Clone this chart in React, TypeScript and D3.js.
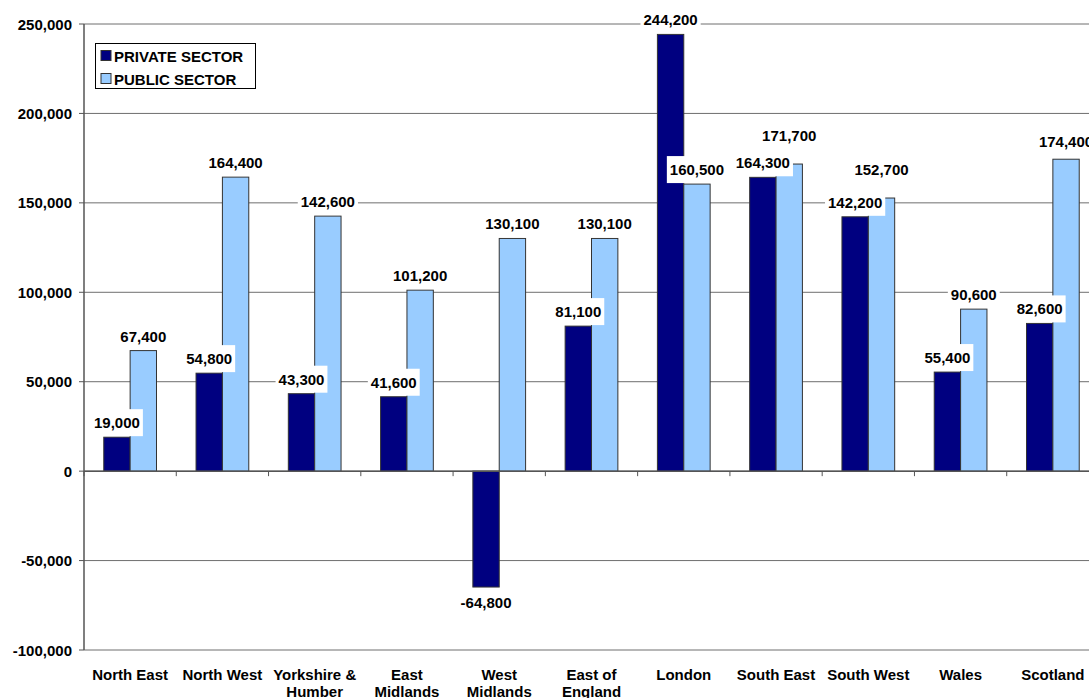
import { useMemo } from 'react';
import { scaleBand, scaleLinear, format } from 'd3';

const categories = [
  ['North East'],
  ['North West'],
  ['Yorkshire &', 'Humber'],
  ['East', 'Midlands'],
  ['West', 'Midlands'],
  ['East of', 'England'],
  ['London'],
  ['South East'],
  ['South West'],
  ['Wales'],
  ['Scotland'],
];
const privateSector = [19000, 54800, 43300, 41600, -64800, 81100, 244200, 164300, 142200, 55400, 82600];
const publicSector = [67400, 164400, 142600, 101200, 130100, 130100, 160500, 171700, 152700, 90600, 174400];
const seriesNames = ['PRIVATE SECTOR', 'PUBLIC SECTOR'];
const yTicks = [-100000, -50000, 0, 50000, 100000, 150000, 200000, 250000];

const colors = ['#000080', '#99CCFF'];
const W = 1089;
const H = 698;
const plot = { left: 84, right: 1099, top: 24, bottom: 650 };
const d3fmt = format(',');
const fmt = (v: number) => d3fmt(v).replace('\u2212', '-');

const font = {
  fontFamily: 'Arial, "Liberation Sans", sans-serif',
  fontWeight: 700,
  fontSize: 15,
};

// approx width of bold Arial number text
const textWidth = (s: string) => {
  let w = 0;
  for (const c of s) w += c === ',' ? 0.278 : c === '-' ? 0.333 : 0.556;
  return w * 15;
};

// labels that were dragged up in the original chart (series-index key)
const labelLift: Record<string, number> = { '1-7': 29, '1-8': 29, '1-10': 18 };

const T = ({ x, y, anchor = 'middle', children }: any) => (
  <text x={x} y={y} textAnchor={anchor} dominantBaseline="central" style={font} fill="#000">
    {children}
  </text>
);

const App = () => {
  const keys = categories.map((c) => c.join(' '));
  const x0 = useMemo(
    () => scaleBand<string>().domain(keys).range([plot.left, plot.right]).padding(0),
    [],
  );
  const x1 = useMemo(
    () =>
      scaleBand<number>()
        .domain([0, 1])
        .range([0, x0.bandwidth()])
        .paddingInner(0)
        .paddingOuter(0.75),
    [x0],
  );
  const y = useMemo(
    () => scaleLinear().domain([-100000, 250000]).range([plot.bottom, plot.top]),
    [],
  );

  const series = [privateSector, publicSector];

  const bars = series.flatMap((vals, s) =>
    vals.map((v, i) => {
      const bx = x0(keys[i])! + x1(s)!;
      const top = y(Math.max(v, 0));
      const bot = y(Math.min(v, 0));
      return { s, i, v, bx, top, bot };
    }),
  );

  return (
    <svg
      width={W}
      height={H}
      style={{ position: 'absolute', left: 0, top: 0, background: '#fff' }}
    >
      {/* gridlines */}
      {yTicks.map((t) => (
        <line
          key={t}
          x1={plot.left}
          x2={plot.right}
          y1={y(t)}
          y2={y(t)}
          stroke="#6e6e6e"
          strokeWidth={1}
        />
      ))}
      {/* y axis */}
      <line x1={plot.left} x2={plot.left} y1={plot.top} y2={plot.bottom} stroke="#555" strokeWidth={1.5} />
      {yTicks.map((t) => (
        <g key={'yt' + t}>
          <line x1={plot.left - 5} x2={plot.left} y1={y(t)} y2={y(t)} stroke="#555" />
          <T x={72} y={y(t)} anchor="end">
            {fmt(t)}
          </T>
        </g>
      ))}

      {/* bars */}
      {bars.map((b) => (
        <rect
          key={`${b.s}-${b.i}`}
          x={b.bx}
          y={b.top}
          width={x1.bandwidth()}
          height={b.bot - b.top}
          fill={colors[b.s]}
          stroke="#333"
          strokeWidth={1}
        />
      ))}

      {/* category axis at zero */}
      <line x1={plot.left} x2={plot.right} y1={y(0)} y2={y(0)} stroke="#555" strokeWidth={1.5} />
      {keys.map((k) => (
        <line key={'xt' + k} x1={x0(k)!} x2={x0(k)!} y1={y(0)} y2={y(0) + 5} stroke="#555" />
      ))}
      {categories.map((lines, i) => (
        <g key={'xl' + i}>
          {lines.map((l, j) => (
            <T key={j} x={x0(keys[i])! + x0.bandwidth() / 2} y={674 + j * 17}>
              {l}
            </T>
          ))}
        </g>
      ))}

      {/* data labels */}
      {bars.map((b) => {
        const cx = b.bx + x1.bandwidth() / 2;
        const lift = labelLift[`${b.s}-${b.i}`] ?? 14.5;
        const cy = b.v >= 0 ? b.top - lift : b.bot + 15;
        const label = fmt(b.v);
        const tw = textWidth(label);
        return (
          <g key={`l${b.s}-${b.i}`}>
            <rect x={cx - tw / 2 - 3} y={cy - 13.5} width={tw + 6} height={27} fill="#fff" />
            <T x={cx} y={cy}>
              {label}
            </T>
          </g>
        );
      })}

      {/* legend */}
      <rect x={95.5} y={43.5} width={160} height={45} fill="#fff" stroke="#000" />
      {seriesNames.map((n, s) => (
        <g key={n}>
          <rect x={101} y={50.5 + s * 23} width={10} height={10} fill={colors[s]} stroke="#333" />
          <T x={114} y={56 + s * 23} anchor="start">
            {n}
          </T>
        </g>
      ))}
    </svg>
  );
};

export default App;
